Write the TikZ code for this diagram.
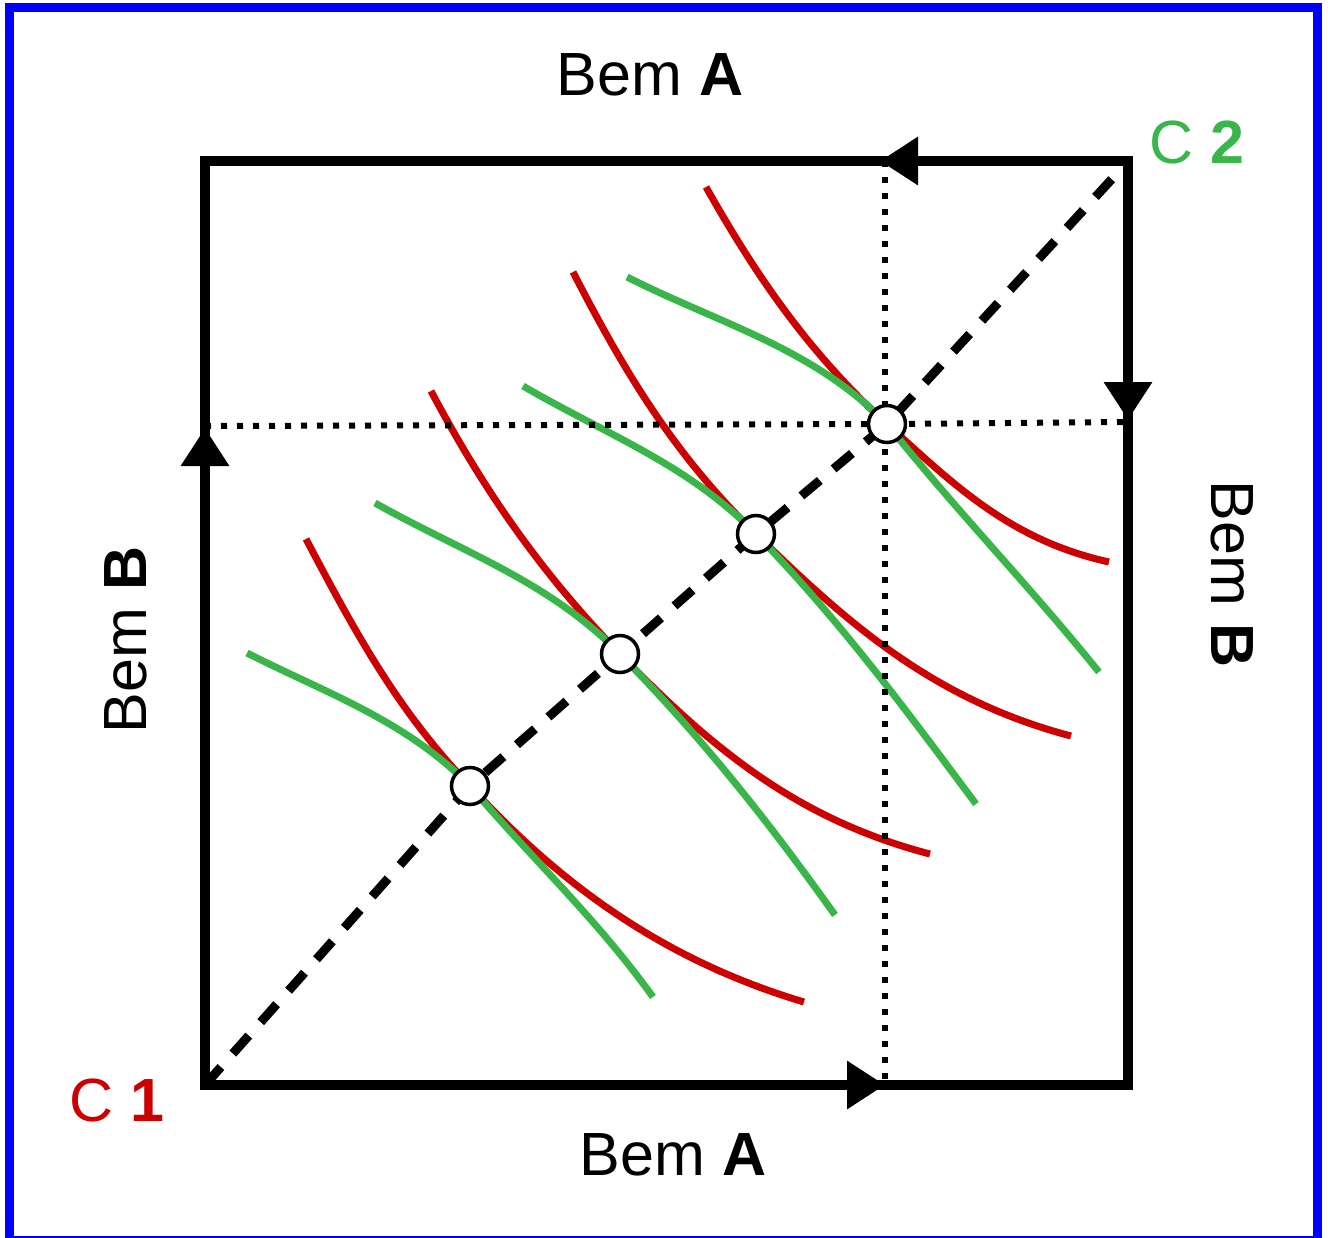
\documentclass[tikz,border=0pt]{standalone}
\usepackage{fontspec}
\setmainfont{Liberation Sans}
\usetikzlibrary{arrows.meta}
\definecolor{cred}{RGB}{204,0,0}
\definecolor{cgreen}{RGB}{57,181,74}
\definecolor{cblue}{RGB}{0,0,255}
\begin{document}
\begin{tikzpicture}[x=1pt,y=-1pt,
  redcurve/.style={cred,line width=7pt,line cap=butt},
  greencurve/.style={cgreen,line width=7pt,line cap=butt},
  dotline/.style={line width=6pt,dash pattern=on 6pt off 10pt},
  dashline/.style={line width=9pt,dash pattern=on 24pt off 18pt},
  boxline/.style={line width=10pt,line join=miter},
  arr/.style={line width=10pt,-{Triangle[length=38pt,width=46pt]}},
  eq/.style={circle,draw=black,fill=white,line width=3.5pt,minimum size=37pt,inner sep=0pt},
  lab/.style={font=\fontsize{61}{61}\selectfont,inner sep=0pt}]
\useasboundingbox (0,0) rectangle (1328,1237);
\draw[cblue,line width=9pt] (9,7) rectangle (1317.5,1240);

% corners and tangency points
\coordinate (o1) at (205,1085);
\coordinate (o2) at (1128,161);
\coordinate (tl) at (205,161);
\coordinate (br) at (1128,1085);
\coordinate (p1) at (470,786);
\coordinate (p2) at (620,654);
\coordinate (p3) at (756,534);
\coordinate (p4) at (887,424);
\coordinate (dtop) at (1122,168);
\coordinate (vtop) at (885,161);
\coordinate (vbot) at (885,1085);
\coordinate (hl) at (205,426);
\coordinate (hr) at (1128,422);

% indifference curves of C1 (red) and C2 (green)
\draw[redcurve] (306,539) .. controls (354,630) and (397.5,711) .. (p1)
  .. controls (565,890) and (670,962) .. (804,1002);
\draw[greencurve] (247,653) .. controls (328,694) and (406,720.5) .. (p1)
  .. controls (535,862) and (596,918) .. (653,997);
\draw[redcurve] (431,391) .. controls (483,489) and (541,573) .. (p2)
  .. controls (715,752) and (800,820) .. (930,854);
\draw[greencurve] (375,503) .. controls (463,552.5) and (549,581) .. (p2)
  .. controls (703,739) and (766.5,819) .. (835,915);
\draw[redcurve] (573,272) .. controls (624.5,372) and (675,456) .. (p3)
  .. controls (850,626) and (935,700) .. (1071,736);
\draw[greencurve] (523,386) .. controls (606,434.5) and (688,464) .. (p3)
  .. controls (841,622) and (903,706) .. (976,804);
\draw[redcurve] (706,187) .. controls (757,277.5) and (810,354) .. (p4)
  .. controls (954,485) and (1010,540) .. (1109,562);
\draw[greencurve] (627,277) .. controls (720,324) and (813.5,348) .. (p4)
  .. controls (960,515) and (1027,583) .. (1099,672);

% dotted guides
\draw[dotline] (vtop) -- (vbot);
\draw[dotline] (hl) -- (p4) -- (hr);

% contract curve
\draw[dashline] (o1) -- (p1) -- (p2) -- (p3) -- (p4) -- (dtop);

% Edgeworth box
\draw[boxline] (tl) rectangle (br);
\draw[arr] (o1) -- (vbot);
\draw[arr] (o1) -- (205,428);
\draw[arr] (o2) -- (880,161);
\draw[arr] (o2) -- (1128,420);

% equilibrium points
\node[eq] (e1) at (p1) {};
\node[eq] (e2) at (p2) {};
\node[eq] (e3) at (p3) {};
\node[eq] (e4) at (p4) {};

% labels
\node[lab,anchor=base] (topA) at (650,95) {Bem \textbf{A}};
\node[lab,anchor=base] (botA) at (673,1175) {Bem \textbf{A}};
\node[lab,anchor=base,rotate=90] (leftB) at (146,640) {Bem \textbf{B}};
\node[lab,anchor=base,rotate=-90] (rightB) at (1211,574) {Bem \textbf{B}};
\node[lab,anchor=base,text=cred] (c1) at (117,1121) {C \textbf{1}};
\node[lab,anchor=base,text=cgreen] (c2) at (1197,163) {C \textbf{2}};
\end{tikzpicture}
\end{document}
